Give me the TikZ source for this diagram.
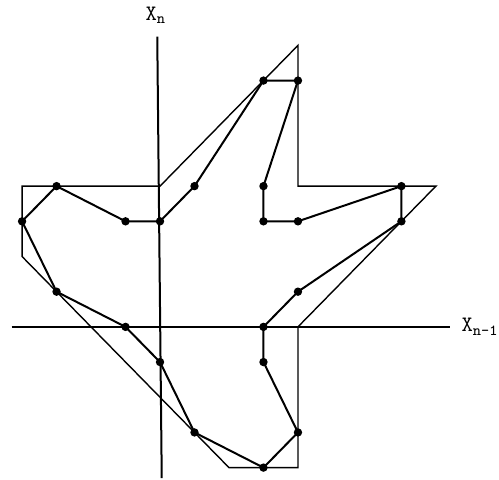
\documentclass[tikz,border=0pt]{standalone}
\tikzset{
    axis/.style={line width=1pt},
    outer/.style={line width=0.7pt},
    inner/.style={line width=1pt, line join=round},
    dot/.style={circle, fill, inner sep=0pt, minimum size=4.2pt},
    lbl/.style={font=\ttfamily\fontsize{11}{13}\selectfont, inner sep=0pt}
}

\begin{document}
\begin{tikzpicture}[x=17.25pt, y=17.6pt]
    \useasboundingbox (-4.64,-4.35) rectangle (9.83,9.29);
    % axes
    \coordinate (yb) at (0.05,-4.3); \coordinate (yt) at (-0.08,8.25);
    \coordinate (xl) at (-4.3,0); \coordinate (xr) at (8.4,0);
    \draw[axis] (yb) -- (yt); \draw[axis] (xl) -- (xr);
    \node[lbl] (lxn) at (-0.12,8.86) {X\textsubscript{n}};
    \node[lbl] (lxn1) at (9.28,0) {X\textsubscript{n-1}};
    % outer polygon
    \draw[outer] (0,4) -- (4,8) -- (4,4) -- (8,4) -- (4,0) -- (4,-4)
        -- (2,-4) -- (-4,2) -- (-4,4) -- cycle;
    % inner polygon with its points
    \draw[inner] (3,7) -- (4,7) -- (3,4) -- (3,3) -- (4,3) -- (7,4) -- (7,3)
        -- (4,1) -- (3,0) -- (3,-1) -- (4,-3) -- (3,-4) -- (1,-3) -- (0,-1)
        -- (-1,0) -- (-3,1) -- (-4,3) -- (-3,4) -- (-1,3) -- (0,3) -- (1,4) -- cycle;
    \foreach \p [count=\i] in {(3,7),(4,7),(3,4),(3,3),(4,3),(7,4),(7,3),
        (4,1),(3,0),(3,-1),(4,-3),(3,-4),(1,-3),(0,-1),(-1,0),(-3,1),
        (-4,3),(-3,4),(-1,3),(0,3),(1,4)}
        \node[dot] (d\i) at \p {};
\end{tikzpicture}
\end{document}
